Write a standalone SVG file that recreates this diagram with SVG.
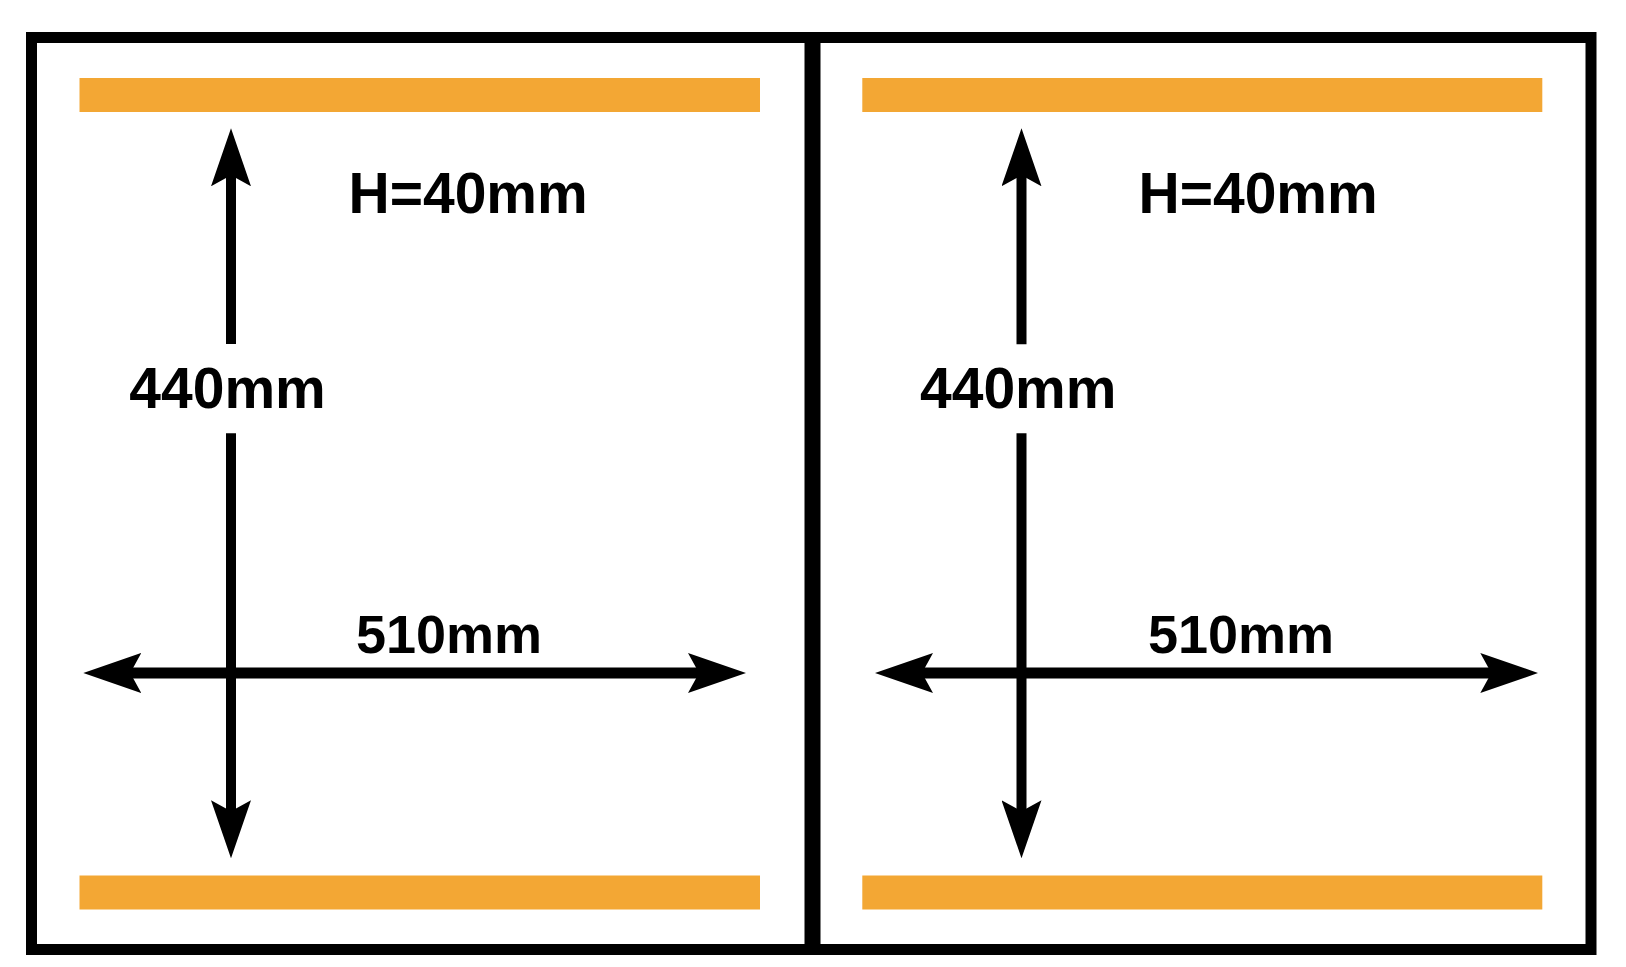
<svg xmlns="http://www.w3.org/2000/svg" width="1626" height="967" viewBox="0 0 1626 967">
  <style>
    .frame { fill: none; stroke: #000; stroke-width: 11; }
    .divider { fill: #000; }
    .bar { fill: #F3A734; }
    .dim { stroke: #000; fill: none; }
    .h { stroke-width: 11; }
    .v { stroke-width: 10; }
    .lbl { font-family: "Liberation Sans", Arial, sans-serif; font-weight: bold; fill: #000; }
  </style>
  <defs>
    <marker id="head" viewBox="0 0 58 40" markerUnits="userSpaceOnUse" markerWidth="58" markerHeight="40" refX="14" refY="20" orient="auto-start-reverse">
      <path d="M0,0 L58,20 L0,40 L11,20 Z" fill="#000"/>
    </marker>
  </defs>
  <rect x="0" y="0" width="1626" height="967" fill="#fff"/>

  <g id="frame">
    <rect class="frame" x="31.5" y="37.5" width="1559.5" height="912"/>
    <rect class="divider" x="804.5" y="37" width="16" height="913"/>
  </g>

  <g id="left-panel">
    <rect class="bar" x="79.5" y="78" width="680.5" height="34"/>
    <rect class="bar" x="79.5" y="875.5" width="680.5" height="34"/>
    <text class="lbl" x="348.5" y="213.3" font-size="57">H=40mm</text>
    <text class="lbl" x="129.3" y="408.3" font-size="57">440mm</text>
    <text class="lbl" x="356" y="653.3" font-size="54">510mm</text>
  </g>

  <g id="right-panel">
    <rect class="bar" x="862.3" y="78" width="680" height="34"/>
    <rect class="bar" x="862.3" y="875.5" width="680" height="34"/>
    <text class="lbl" x="1138.5" y="213.3" font-size="57">H=40mm</text>
    <text class="lbl" x="920" y="408.3" font-size="57">440mm</text>
    <text class="lbl" x="1148" y="653.3" font-size="54">510mm</text>
  </g>

  <g id="connectors">
    <line class="dim h" x1="127.3" y1="673" x2="702" y2="673" marker-start="url(#head)" marker-end="url(#head)"/>
    <line class="dim v" x1="231" y1="344" x2="231" y2="172.3" marker-end="url(#head)"/>
    <line class="dim v" x1="231" y1="433.3" x2="231" y2="814.3" marker-end="url(#head)"/>
    <line class="dim h" x1="919" y1="673" x2="1494.3" y2="673" marker-start="url(#head)" marker-end="url(#head)"/>
    <line class="dim v" x1="1021.5" y1="344.3" x2="1021.5" y2="172.3" marker-end="url(#head)"/>
    <line class="dim v" x1="1021.5" y1="433.3" x2="1021.5" y2="814.3" marker-end="url(#head)"/>
  </g>
</svg>
